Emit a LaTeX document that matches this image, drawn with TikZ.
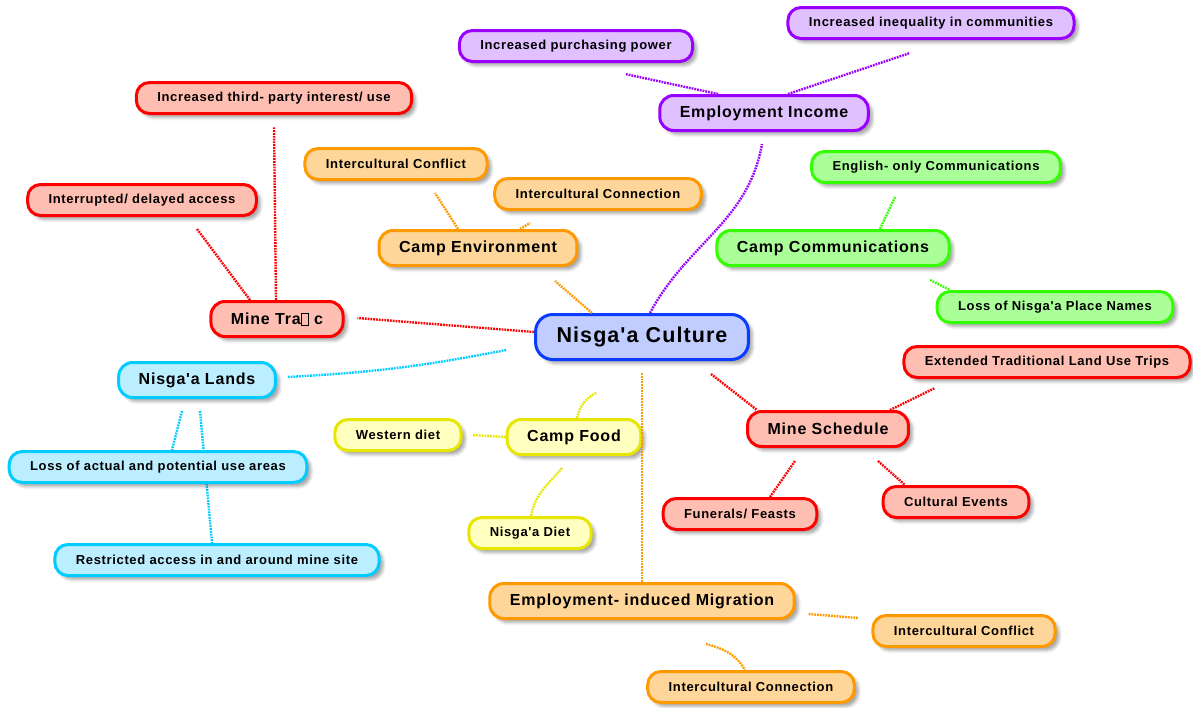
\documentclass[tikz,border=0pt]{standalone}
\usepackage{fontspec}
\setmainfont{Liberation Sans}[LetterSpace=5, Ligatures=TeXOff]
\usetikzlibrary{shadows.blur}

\definecolor{bluebd}{RGB}{10,60,255}
\definecolor{bluefl}{RGB}{194,205,255}
\definecolor{purpbd}{RGB}{153,0,255}
\definecolor{purpfl}{RGB}{224,192,255}
\definecolor{orngbd}{RGB}{255,153,0}
\definecolor{orngfl}{RGB}{255,214,153}
\definecolor{grnbd}{RGB}{51,255,0}
\definecolor{grnfl}{RGB}{170,255,153}
\definecolor{redbd}{RGB}{255,0,0}
\definecolor{redfl}{RGB}{255,190,178}
\definecolor{cyanbd}{RGB}{0,204,255}
\definecolor{cyanfl}{RGB}{187,238,255}
\definecolor{yelbd}{RGB}{230,230,0}
\definecolor{yelfl}{RGB}{255,255,192}

\newcommand{\missglyph}{{\setlength{\fboxsep}{0pt}\setlength{\fboxrule}{0.6pt}\fbox{\rule{0pt}{11pt}\hspace{7pt}}}}

\begin{document}
\begin{tikzpicture}[x=1pt, y=1pt,
	topic/.style={line width=3pt, inner ysep=0pt, align=center, text=black,
		blur shadow={shadow xshift=4pt, shadow yshift=-4pt, shadow blur radius=3pt, shadow opacity=35}},
	central/.style={topic, rounded corners=17pt, minimum height=45pt, inner xsep=21pt, font=\fontsize{21.5}{24}\selectfont\bfseries},
	mainbox/.style={topic, rounded corners=14pt, minimum height=35pt, inner xsep=20pt, font=\fontsize{16}{18}\selectfont\bfseries},
	subbox/.style={topic, rounded corners=13pt, minimum height=31pt, inner xsep=21pt, font=\fontsize{13}{15}\selectfont\bfseries},
	blu/.style={draw=bluebd, fill=bluefl},
	purp/.style={draw=purpbd, fill=purpfl},
	orng/.style={draw=orngbd, fill=orngfl},
	grn/.style={draw=grnbd, fill=grnfl},
	rd/.style={draw=redbd, fill=redfl},
	cyn/.style={draw=cyanbd, fill=cyanfl},
	yel/.style={draw=yelbd, fill=yelfl},
	link/.style={line width=2.4pt, dash pattern=on 1.8pt off 1pt}
]

		\useasboundingbox (0,0) rectangle (1193,-707);

		\coordinate (c0) at (642,-337);
		\coordinate (c1) at (764,-113);
		\coordinate (c2) at (576,-46);
		\coordinate (c3) at (931,-23);
		\coordinate (c4) at (478,-248);
		\coordinate (c5) at (396,-164);
		\coordinate (c6) at (598,-194);
		\coordinate (c7) at (833,-248);
		\coordinate (c8) at (936,-167);
		\coordinate (c9) at (1055,-307);
		\coordinate (c10) at (277,-319);
		\coordinate (c11) at (274,-98);
		\coordinate (c12) at (142,-200);
		\coordinate (c13) at (197,-380);
		\coordinate (c14) at (158,-467);
		\coordinate (c15) at (217,-560);
		\coordinate (c16) at (574,-437);
		\coordinate (c17) at (398,-435);
		\coordinate (c18) at (530,-533);
		\coordinate (c19) at (828,-429);
		\coordinate (c20) at (1047,-362);
		\coordinate (c21) at (740,-514);
		\coordinate (c22) at (956,-502);
		\coordinate (c23) at (642,-601);
		\coordinate (c24) at (964,-631);
		\coordinate (c25) at (751,-687);

		\node [central, blu] (0) at (c0) {Nisga'a Culture};
		\node [mainbox, purp] (1) at (c1) {Employment Income};
		\node [subbox, purp] (2) at (c2) {Increased purchasing power};
		\node [subbox, purp] (3) at (c3) {Increased inequality in communities};
		\node [mainbox, orng] (4) at (c4) {Camp Environment};
		\node [subbox, orng] (5) at (c5) {Intercultural Conflict};
		\node [subbox, orng] (6) at (c6) {Intercultural Connection};
		\node [mainbox, grn] (7) at (c7) {Camp Communications};
		\node [subbox, grn] (8) at (c8) {English- only Communications};
		\node [subbox, grn] (9) at (c9) {Loss of Nisga'a Place Names};
		\node [mainbox, rd] (10) at (c10) {Mine Tra\missglyph{} c};
		\node [subbox, rd] (11) at (c11) {Increased third- party interest/ use};
		\node [subbox, rd] (12) at (c12) {Interrupted/ delayed access};
		\node [mainbox, cyn] (13) at (c13) {Nisga'a Lands};
		\node [subbox, cyn] (15) at (c15) {Restricted access in and around mine site};
		\node [mainbox, yel] (16) at (c16) {Camp Food};
		\node [subbox, yel] (17) at (c17) {Western diet};
		\node [subbox, yel] (18) at (c18) {Nisga'a Diet};
		\node [mainbox, rd] (19) at (c19) {Mine Schedule};
		\node [subbox, rd] (20) at (c20) {Extended Traditional Land Use Trips};
		\node [subbox, rd] (21) at (c21) {Funerals/ Feasts};
		\node [subbox, rd] (22) at (c22) {Cultural Events};
		\node [mainbox, orng] (23) at (c23) {Employment- induced Migration};
		\node [subbox, orng] (24) at (c24) {Intercultural Conflict};
		\node [subbox, orng] (25) at (c25) {Intercultural Connection};

		\draw [link, draw=purpbd] ([xshift=8pt]0.north) to [out=62, in=-100] ([xshift=-2pt, yshift=-12pt]1.south);
		\draw [link, draw=purpbd] ([xshift=-46pt]1.north) to ([xshift=49pt, yshift=-11pt]2.south);
		\draw [link, draw=purpbd] ([xshift=24pt]1.north) to ([xshift=-21pt, yshift=-13pt]3.south);
		\draw [link, draw=orngbd] ([xshift=-50pt]0.north) to ([xshift=77pt, yshift=-14pt]4.south);
		\draw [link, draw=orngbd] ([xshift=-20pt]4.north) to ([xshift=39pt, yshift=-12pt]5.south);
		\draw [link, draw=orngbd] ([xshift=42pt]4.north) to ([xshift=-68pt, yshift=-12pt]6.south);
		\draw [link, draw=grnbd] ([xshift=47pt]7.north) to ([xshift=-41pt, yshift=-13pt]8.south);
		\draw [link, draw=grnbd] ([xshift=97pt, yshift=-13pt]7.south) to ([xshift=-105pt]9.north);
		\draw [link, draw=redbd] ([yshift=5pt]0.west) to ([xshift=13pt, yshift=1pt]10.east);
		\draw [link, draw=redbd] ([xshift=-1pt]10.north) to ([yshift=-12pt]11.south);
		\draw [link, draw=redbd] ([xshift=-27pt]10.north) to ([xshift=55pt, yshift=-12pt]12.south);
		\draw [link, draw=cyanbd] ([xshift=-28pt, yshift=-13pt]0.west) to [bend left=4] ([xshift=10pt, yshift=3pt]13.east);
		\draw [link, draw=cyanbd] ([xshift=3pt, yshift=-12pt]13.south) to ([xshift=-5pt]15.north);

		\node [subbox, cyn] (14) at (c14) {Loss of actual and potential use areas};

		\draw [link, draw=cyanbd] ([xshift=-15pt, yshift=-12pt]13.south) to ([xshift=14pt]14.north);
		\draw [link, draw=yelbd] ([xshift=-46pt, yshift=-32pt]0.south) to [bend right=25] ([xshift=3pt]16.north);
		\draw [link, draw=yelbd] (16.west) to ([xshift=10pt]17.east);
		\draw [link, draw=yelbd] ([xshift=-12pt, yshift=-12pt]16.south) to [out=-130, in=80] ([xshift=1pt]18.north);
		\draw [link, draw=orngbd] ([yshift=-12pt]0.south) to (23.north);
		\draw [link, draw=redbd] ([xshift=69pt, yshift=-13pt]0.south) to ([xshift=-71pt]19.north);
		\draw [link, draw=redbd] ([xshift=62pt]19.north) to ([xshift=-112pt, yshift=-9pt]20.south);
		\draw [link, draw=redbd] ([xshift=-33pt, yshift=-13pt]19.south) to ([xshift=30pt]21.north);
		\draw [link, draw=redbd] ([xshift=50pt, yshift=-13pt]19.south) to ([xshift=-51pt]22.north);
		\draw [link, draw=orngbd] ([xshift=13pt, yshift=-13pt]23.east) to ([xshift=-13pt, yshift=13pt]24.west);
		\draw [link, draw=orngbd] ([xshift=64pt, yshift=-24pt]23.south) to [out=-15, in=120] ([xshift=-6pt]25.north);
\end{tikzpicture}
\end{document}
